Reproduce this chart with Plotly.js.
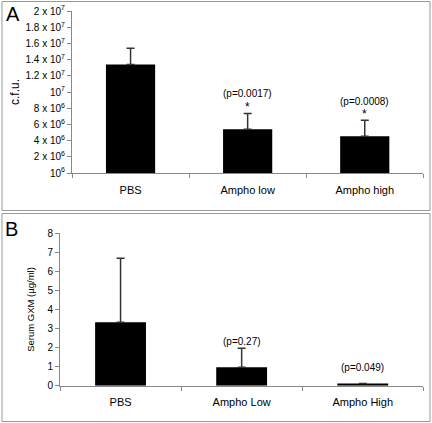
<!DOCTYPE html>
<html>
<head>
<meta charset="utf-8">
<script src="https://cdn.plot.ly/plotly-3.0.1.min.js"></script>
<style>html,body{margin:0;padding:0;background:#fff}#chart{width:432px;height:423px}</style>
</head>
<body>
<div id="chart"></div>
<script>
// ---- Data ----
var categoriesA = ['PBS', 'Ampho low', 'Ampho high'];
var cfu = [1.34e7, 5.4e6, 4.55e6];
var cfuErr = [2.0e6, 1.95e6, 1.95e6];
var pLabelsA = ['', '(p=0.0017)', '(p=0.0008)'];
var starsA = ['', '*', '*'];
var tickValsA = [0, 2e6, 4e6, 6e6, 8e6, 1e7, 1.2e7, 1.4e7, 1.6e7, 1.8e7, 2e7];
var tickTextA = ['10<sup>6</sup>', '2 x 10<sup>6</sup>', '4 x 10<sup>6</sup>', '6 x 10<sup>6</sup>',
  '8 x 10<sup>6</sup>', '10<sup>7</sup>', '1.2 x 10<sup>7</sup>', '1.4 x 10<sup>7</sup>',
  '1.6 x 10<sup>7</sup>', '1.8 x 10<sup>7</sup>', '2 x 10<sup>7</sup>'];

var categoriesB = ['PBS', 'Ampho Low', 'Ampho High'];
var gxm = [3.33, 0.97, 0.12];
var gxmErr = [3.36, 0.99, 0];
var pLabelsB = ['', '(p=0.27)', '(p=0.049)'];
var tickValsB = [0, 1, 2, 3, 4, 5, 6, 7, 8];

// ---- Chart ----
var W = 432, H = 423;
function px(x) { return x / W; }
function py(y) { return 1 - y / H; }
var font = 'Liberation Sans, Arial, sans-serif';

var traces = [
  {
    type: 'bar', x: categoriesA, y: cfu, xaxis: 'x', yaxis: 'y', width: 0.42,
    marker: { color: '#000' },
    error_y: { type: 'data', array: cfuErr, symmetric: false, arrayminus: [0, 0, 0], color: '#333', thickness: 1.5, width: 4 },
    hoverinfo: 'none'
  },
  {
    type: 'bar', x: categoriesB, y: gxm, xaxis: 'x2', yaxis: 'y2', width: 0.42,
    marker: { color: '#000' },
    error_y: { type: 'data', array: gxmErr, symmetric: false, arrayminus: [0, 0, 0], color: '#333', thickness: 1.5, width: 4 },
    hoverinfo: 'none'
  }
];

var annotations = [];
var pShiftA = [0, 20, 19];
var sShiftA = [0, 6, 6];
categoriesA.forEach(function (c, i) {
  if (pLabelsA[i]) {
    annotations.push({ xref: 'x', yref: 'y', x: c, y: cfu[i] + cfuErr[i], text: pLabelsA[i], showarrow: false,
      yanchor: 'middle', yshift: pShiftA[i], font: { family: font, size: 10, color: '#000' } });
  }
  if (starsA[i]) {
    annotations.push({ xref: 'x', yref: 'y', x: c, y: cfu[i] + cfuErr[i], text: starsA[i], showarrow: false,
      yanchor: 'middle', yshift: sShiftA[i], font: { family: font, size: 12, color: '#000' } });
  }
});
var pShiftB = [0, 7, 16];
categoriesB.forEach(function (c, i) {
  if (pLabelsB[i]) {
    annotations.push({ xref: 'x2', yref: 'y2', x: c, y: gxm[i] + gxmErr[i], text: pLabelsB[i], showarrow: false,
      yanchor: 'middle', yshift: pShiftB[i], font: { family: font, size: 10, color: '#000' } });
  }
});
annotations.push({ xref: 'paper', yref: 'paper', x: px(12.5), y: py(14), text: 'A', showarrow: false,
  xanchor: 'center', yanchor: 'middle', font: { family: font, size: 20, color: '#000' } });
annotations.push({ xref: 'paper', yref: 'paper', x: px(11), y: py(229.5), text: 'B', showarrow: false,
  xanchor: 'center', yanchor: 'middle', font: { family: font, size: 20, color: '#000' } });

var axisCommon = {
  showgrid: false, zeroline: false, showline: true, linecolor: '#888', linewidth: 1,
  ticks: 'outside', ticklen: 4, tickcolor: '#888', fixedrange: true,
  tickfont: { family: font, size: 10, color: '#000' }
};

var layout = {
  width: W, height: H,
  margin: { l: 0, r: 0, t: 0, b: 0 },
  paper_bgcolor: '#fff', plot_bgcolor: 'rgba(0,0,0,0)',
  showlegend: false,
  xaxis: Object.assign({}, axisCommon, {
    domain: [px(72), px(423.3)], anchor: 'y', type: 'category', tickson: 'boundaries',
    ticklabelstandoff: 7,
    tickfont: { family: font, size: 11, color: '#000' }
  }),
  yaxis: Object.assign({}, axisCommon, {
    domain: [py(173), py(11)], anchor: 'x', range: [0, 2e7],
    tickmode: 'array', tickvals: tickValsA, ticktext: tickTextA,
    title: { text: 'c.f.u.', font: { family: font, size: 12, color: '#000' }, standoff: 3 }
  }),
  xaxis2: Object.assign({}, axisCommon, {
    domain: [px(60), px(423.3)], anchor: 'y2', type: 'category', tickson: 'boundaries',
    ticklabelstandoff: 6,
    tickfont: { family: font, size: 11, color: '#000' }
  }),
  yaxis2: Object.assign({}, axisCommon, {
    domain: [py(385.7), py(233.3)], anchor: 'x2', range: [0, 8],
    tickmode: 'array', tickvals: tickValsB,
    title: { text: 'Serum GXM (µg/ml)', font: { family: font, size: 9.5, color: '#000' }, standoff: 11 }
  }),
  annotations: annotations,
  shapes: [
    { type: 'rect', xref: 'paper', yref: 'paper', x0: px(2), x1: px(430), y0: py(210.5), y1: py(1.5), line: { color: '#999', width: 1 } },
    { type: 'rect', xref: 'paper', yref: 'paper', x0: px(2), x1: px(430), y0: py(421.5), y1: py(213.5), line: { color: '#999', width: 1 } }
  ]
};

Plotly.newPlot('chart', traces, layout, { displayModeBar: false, staticPlot: true });
</script>
</body>
</html>
